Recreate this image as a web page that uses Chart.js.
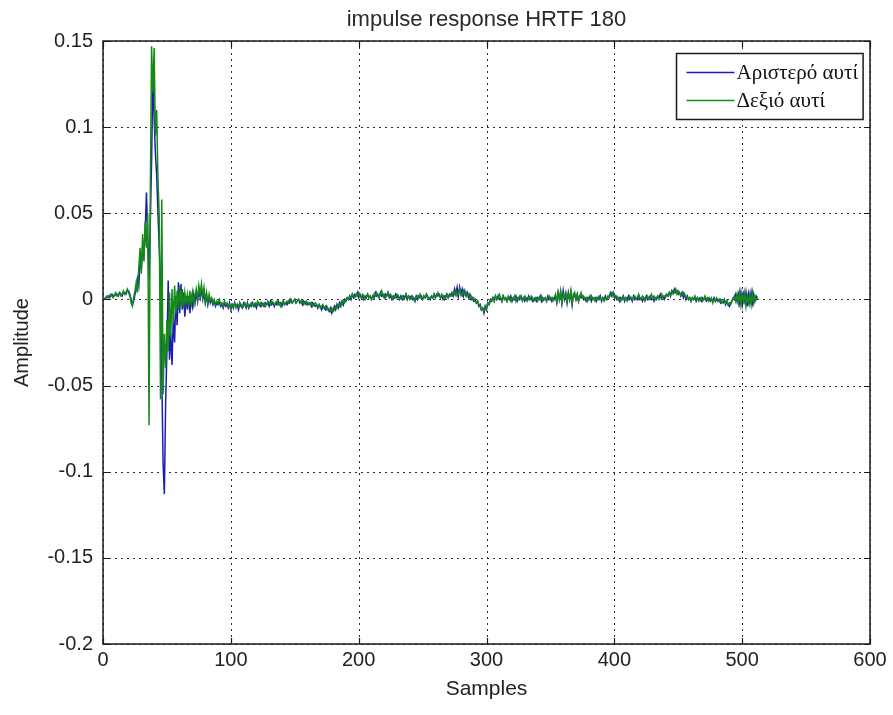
<!DOCTYPE html>
<html>
<head>
<meta charset="utf-8">
<script src="https://cdn.jsdelivr.net/npm/chart.js@4.4.0/dist/chart.umd.min.js"></script>
<style>
  html, body { margin: 0; padding: 0; background: #ffffff; }
  #wrap { width: 893px; height: 715px; }
  canvas { display: block; }
</style>
</head>
<body>
<div id="wrap"><canvas id="c" width="893" height="715"></canvas></div>
<script>
// Labels and text
const chartTitle = 'impulse response HRTF 180';
const xAxisTitle = 'Samples';
const yAxisTitle = 'Amplitude';
const seriesNames = ['Αριστερό αυτί', 'Δεξιό αυτί'];
const seriesColors = ['#1c1cb4', '#168a16'];

// Axis ticks
const xTickLabels = ['0', '100', '200', '300', '400', '500', '600'];
const yTickLabels = ['-0.2', '-0.15', '-0.1', '-0.05', '0', '0.05', '0.1', '0.15'];

// Left ear impulse response, samples 1..512 (16 per row)
const leftEar = [
  0.000, 0.001, 0.001, 0.002, 0.001, 0.002, 0.003, 0.002, 0.002, 0.003, 0.003, 0.002, 0.004, 0.003, 0.002, 0.004,
  0.004, 0.003, 0.005, 0.005, 0.003, 0.000, -0.003, -0.001, 0.003, 0.006, 0.012, 0.008, 0.022, 0.018, 0.030, 0.026,
  0.040, 0.062, 0.035, 0.012, 0.045, 0.080, 0.130, 0.105, 0.085, 0.072, 0.050, 0.030, 0.010, -0.045, -0.095, -0.113,
  -0.060, -0.030, 0.011, -0.035, -0.020, -0.038, -0.010, -0.025, 0.002, -0.015, 0.010, -0.008, 0.009, -0.006, 0.004, -0.010,
  0.002, -0.006, 0.002, -0.008, 0.001, -0.004, 0.003, -0.002, 0.004, -0.001, 0.005, 0.001, 0.006, 0.000, 0.004, -0.002,
  0.002, -0.003, 0.001, -0.002, 0.000, -0.003, -0.001, -0.004, -0.002, -0.003, -0.001, -0.004, -0.003, -0.005, -0.002, -0.004,
  -0.003, -0.005, -0.002, -0.006, -0.003, -0.005, -0.002, -0.004, -0.003, -0.006, -0.002, -0.004, -0.005, -0.002, -0.003, -0.005,
  -0.002, -0.005, -0.003, -0.004, -0.002, -0.004, -0.003, -0.005, -0.002, -0.003, -0.004, -0.002, -0.003, -0.004, -0.002, -0.003,
  -0.002, -0.004, -0.001, -0.003, -0.002, -0.004, -0.002, -0.003, -0.001, -0.003, -0.002, -0.004, -0.001, -0.003, -0.002, -0.003,
  -0.001, -0.002, 0.000, -0.002, -0.001, 0.000, -0.002, -0.001, 0.000, -0.002, -0.001, -0.003, -0.001, -0.002, -0.003, -0.002,
  -0.003, -0.002, -0.004, -0.002, -0.003, -0.004, -0.003, -0.005, -0.003, -0.004, -0.006, -0.004, -0.005, -0.006, -0.004, -0.006,
  -0.007, -0.005, -0.008, -0.006, -0.004, -0.006, -0.003, -0.005, -0.002, -0.004, -0.001, -0.003, 0.000, -0.001, 0.001, 0.000,
  0.002, 0.000, 0.003, 0.001, 0.003, 0.002, 0.004, 0.001, 0.003, 0.001, 0.002, 0.000, 0.002, 0.001, 0.003, 0.001,
  0.002, 0.000, 0.002, 0.001, 0.004, 0.002, 0.003, 0.001, 0.004, 0.002, 0.003, 0.001, 0.003, 0.002, 0.004, 0.001,
  0.002, 0.000, 0.002, 0.001, 0.003, 0.001, 0.002, 0.000, 0.002, 0.000, 0.002, 0.001, 0.003, 0.000, 0.002, 0.001,
  0.002, 0.000, 0.001, -0.001, 0.002, 0.000, 0.002, 0.001, 0.002, 0.000, 0.002, 0.001, 0.003, 0.001, 0.001, 0.000,
  0.002, 0.001, 0.003, 0.001, 0.003, 0.002, 0.003, 0.001, 0.002, 0.000, 0.002, 0.001, 0.003, 0.001, 0.003, 0.002,
  0.004, 0.002, 0.006, 0.003, 0.007, 0.002, 0.007, 0.003, 0.006, 0.002, 0.005, 0.002, 0.004, 0.001, 0.003, 0.000,
  0.001, -0.001, 0.000, -0.002, -0.001, -0.004, -0.003, -0.006, -0.005, -0.008, -0.004, -0.006, -0.002, -0.003, 0.000, -0.001,
  0.001, -0.001, 0.002, 0.000, 0.002, 0.000, 0.001, -0.001, 0.002, 0.000, 0.001, -0.001, 0.001, 0.000, 0.002, -0.001,
  0.001, 0.000, 0.002, -0.001, 0.001, 0.000, 0.002, 0.000, 0.001, -0.001, 0.001, 0.000, 0.002, 0.000, 0.001, -0.001,
  0.000, 0.001, -0.001, 0.001, 0.000, 0.002, -0.001, 0.001, 0.000, 0.001, -0.001, 0.002, 0.000, 0.001, -0.001, 0.001,
  0.000, 0.002, -0.002, 0.004, 0.000, 0.004, -0.002, 0.005, 0.000, 0.003, -0.002, 0.004, 0.000, 0.004, -0.003, 0.003,
  0.002, 0.000, 0.003, -0.001, 0.002, 0.001, 0.002, 0.000, 0.001, -0.001, 0.001, 0.000, 0.002, -0.001, 0.001, 0.000,
  0.001, -0.001, 0.001, 0.000, 0.002, -0.001, 0.001, 0.000, 0.002, 0.000, 0.001, 0.002, 0.004, 0.002, 0.004, 0.001,
  0.002, 0.000, 0.001, -0.001, 0.001, 0.000, 0.002, -0.001, 0.001, 0.000, 0.002, 0.000, 0.001, -0.001, 0.002, 0.000,
  0.001, 0.000, 0.002, 0.000, 0.001, -0.001, 0.001, 0.000, 0.002, 0.000, 0.001, 0.002, 0.000, 0.001, -0.001, 0.001,
  0.000, 0.002, 0.001, 0.003, 0.001, 0.002, 0.000, 0.002, 0.003, 0.002, 0.004, 0.002, 0.005, 0.004, 0.006, 0.004,
  0.005, 0.003, 0.004, 0.002, 0.004, 0.001, 0.003, 0.000, 0.002, 0.000, 0.001, -0.001, 0.001, 0.000, 0.001, -0.001,
  0.001, 0.000, 0.001, -0.001, 0.001, 0.000, 0.001, -0.001, 0.000, 0.001, -0.001, 0.000, -0.001, 0.001, -0.001, 0.000,
  -0.001, 0.000, -0.002, -0.001, -0.002, 0.000, -0.003, -0.001, -0.003, -0.004, -0.002, -0.001, 0.001, 0.000, 0.003, -0.001,
  0.003, -0.002, 0.004, -0.003, 0.003, -0.001, 0.004, -0.004, 0.003, -0.002, 0.004, -0.002, 0.003, -0.001, 0.002, 0.001
];

// Right ear impulse response, samples 1..512 (16 per row)
const rightEar = [
  0.000, 0.001, 0.002, 0.001, 0.002, 0.003, 0.002, 0.001, 0.003, 0.004, 0.002, 0.003, 0.004, 0.002, 0.003, 0.005,
  0.003, 0.004, 0.006, 0.004, 0.002, -0.002, -0.004, 0.001, 0.005, 0.010, 0.004, 0.018, 0.030, 0.015, 0.038, 0.022,
  0.045, 0.030, 0.050, -0.073, 0.060, 0.147, 0.120, 0.146, 0.095, 0.110, 0.070, 0.048, -0.058, 0.058, -0.055, -0.020,
  -0.040, -0.012, -0.030, 0.004, -0.022, 0.006, -0.014, 0.008, -0.008, 0.005, -0.006, 0.008, -0.004, 0.006, -0.005, 0.004,
  -0.002, 0.003, -0.004, 0.005, -0.002, 0.004, -0.003, 0.002, 0.006, 0.000, 0.008, 0.003, 0.009, 0.002, 0.007, -0.001,
  0.004, -0.002, 0.003, -0.001, 0.001, -0.002, 0.000, -0.003, -0.001, -0.002, 0.000, -0.003, -0.002, -0.004, -0.001, -0.003,
  -0.002, -0.004, -0.003, -0.005, -0.003, -0.004, -0.002, -0.005, -0.003, -0.004, -0.002, -0.003, -0.005, -0.004, -0.002, -0.004,
  -0.003, -0.005, -0.004, -0.002, -0.003, -0.004, -0.002, -0.003, -0.001, -0.003, -0.002, -0.004, -0.003, -0.002, -0.004, -0.003,
  -0.001, -0.002, -0.003, -0.001, -0.002, -0.003, -0.002, -0.001, -0.003, -0.002, -0.004, -0.002, -0.001, -0.003, -0.002, -0.001,
  -0.002, 0.000, -0.001, -0.002, -0.001, 0.000, -0.002, -0.001, 0.000, -0.001, -0.002, -0.001, -0.003, -0.002, -0.001, -0.003,
  -0.002, -0.003, -0.002, -0.004, -0.003, -0.002, -0.003, -0.004, -0.003, -0.005, -0.004, -0.003, -0.005, -0.004, -0.006, -0.005,
  -0.006, -0.007, -0.005, -0.007, -0.006, -0.004, -0.005, -0.003, -0.004, -0.002, -0.003, -0.001, -0.002, 0.000, 0.001, 0.000,
  0.002, 0.001, 0.003, 0.002, 0.001, 0.003, 0.002, 0.004, 0.002, 0.001, 0.003, 0.002, 0.000, 0.002, 0.003, 0.001,
  0.002, 0.000, 0.001, 0.003, 0.002, 0.004, 0.002, 0.001, 0.003, 0.005, 0.002, 0.003, 0.001, 0.002, 0.004, 0.002,
  0.003, 0.001, 0.000, 0.002, 0.001, 0.003, 0.002, 0.000, 0.001, 0.002, 0.000, 0.001, 0.003, 0.001, 0.002, 0.000,
  0.001, 0.002, 0.000, -0.001, 0.001, 0.002, 0.001, 0.003, 0.001, 0.000, 0.002, 0.001, 0.003, 0.002, 0.000, 0.001,
  0.002, 0.001, 0.003, 0.001, 0.002, 0.004, 0.002, 0.001, 0.003, 0.002, 0.000, 0.002, 0.003, 0.001, 0.002, 0.003,
  0.002, 0.004, 0.003, 0.005, 0.002, 0.004, 0.006, 0.003, 0.002, 0.005, 0.003, 0.004, 0.002, 0.003, 0.001, 0.002,
  0.000, 0.001, -0.001, -0.002, -0.001, -0.003, -0.004, -0.006, -0.005, -0.007, -0.004, -0.005, -0.002, -0.003, -0.001, 0.000,
  0.001, -0.001, 0.002, 0.000, 0.001, 0.003, 0.001, -0.001, 0.002, 0.000, 0.001, -0.001, 0.002, 0.001, -0.001, 0.001,
  0.000, 0.002, -0.001, 0.001, 0.000, 0.002, 0.001, -0.001, 0.001, 0.002, 0.000, -0.001, 0.001, 0.000, 0.002, 0.001,
  -0.001, 0.000, 0.001, -0.001, 0.001, 0.000, 0.002, -0.001, 0.000, 0.001, -0.001, 0.001, 0.002, 0.000, 0.001, -0.001,
  0.001, 0.003, -0.001, 0.004, 0.000, 0.005, -0.002, 0.003, 0.001, 0.004, -0.001, 0.003, 0.000, 0.005, -0.002, 0.002,
  0.004, 0.000, 0.003, -0.001, 0.002, 0.004, 0.001, 0.002, 0.000, 0.001, -0.001, 0.001, 0.000, 0.002, 0.000, 0.001,
  -0.001, 0.001, 0.000, 0.002, 0.001, 0.000, 0.001, -0.001, 0.001, 0.000, 0.002, 0.001, 0.003, 0.004, 0.002, 0.003,
  0.001, 0.002, 0.000, 0.001, -0.001, 0.001, 0.002, 0.000, 0.001, -0.001, 0.000, 0.002, 0.001, 0.000, 0.001, 0.002,
  0.000, 0.001, 0.003, 0.001, 0.000, 0.002, 0.001, -0.001, 0.001, 0.002, 0.000, 0.001, 0.003, 0.001, 0.002, 0.000,
  0.001, 0.002, 0.000, 0.001, 0.003, 0.001, 0.002, 0.001, 0.003, 0.002, 0.004, 0.003, 0.005, 0.003, 0.004, 0.006,
  0.003, 0.005, 0.004, 0.002, 0.003, 0.004, 0.002, 0.001, 0.002, 0.000, 0.001, -0.001, 0.001, 0.000, 0.002, 0.000,
  0.001, -0.001, 0.000, 0.001, -0.001, 0.000, 0.002, 0.000, 0.001, -0.001, 0.000, 0.001, -0.002, 0.000, -0.001, 0.001,
  0.000, -0.001, 0.000, -0.002, -0.001, 0.000, -0.002, -0.001, -0.003, -0.002, -0.003, -0.001, 0.000, 0.002, -0.001, 0.003,
  -0.002, 0.004, -0.003, 0.003, -0.001, 0.004, -0.004, 0.002, -0.002, 0.003, -0.003, 0.004, -0.002, 0.002, 0.000, 0.001
];

const FONT = '"Liberation Sans", Arial, sans-serif';
const SERIF = '"Liberation Serif", "Times New Roman", serif';

// x = sample number (1-based), y = amplitude
const toPoints = arr => arr.map((v, i) => ({ x: i + 1, y: v }));

// Dotted grid, inward tick marks, axes box, legend and title
const matlabFrame = {
  id: 'matlabFrame',
  beforeDatasetsDraw(chart) {
    const { ctx, chartArea: a, scales: { x, y } } = chart;
    ctx.save();
    ctx.strokeStyle = '#2a2a2a';
    ctx.lineWidth = 1;
    ctx.setLineDash([2, 4]);
    ctx.beginPath();
    x.ticks.forEach(t => {
      const px = Math.round(x.getPixelForValue(t.value)) + 0.5;
      ctx.moveTo(px, a.top); ctx.lineTo(px, a.bottom);
    });
    y.ticks.forEach(t => {
      const py = Math.round(y.getPixelForValue(t.value)) + 0.5;
      ctx.moveTo(a.left, py); ctx.lineTo(a.right, py);
    });
    ctx.stroke();
    ctx.restore();
  },
  afterDatasetsDraw(chart) {
    const { ctx, chartArea: a, scales: { x, y } } = chart;
    ctx.save();
    ctx.setLineDash([]);
    ctx.strokeStyle = '#1a1a1a';
    ctx.lineWidth = 1.5;
    ctx.strokeRect(a.left, a.top, a.right - a.left, a.bottom - a.top);
    const tl = 6;
    ctx.lineWidth = 1.2;
    ctx.beginPath();
    x.ticks.forEach(t => {
      const px = Math.round(x.getPixelForValue(t.value)) + 0.5;
      ctx.moveTo(px, a.bottom); ctx.lineTo(px, a.bottom - tl);
      ctx.moveTo(px, a.top); ctx.lineTo(px, a.top + tl);
    });
    y.ticks.forEach(t => {
      const py = Math.round(y.getPixelForValue(t.value)) + 0.5;
      ctx.moveTo(a.left, py); ctx.lineTo(a.left + tl, py);
      ctx.moveTo(a.right, py); ctx.lineTo(a.right - tl, py);
    });
    ctx.stroke();

    // legend box in the upper right corner
    const ds = chart.data.datasets;
    ctx.font = '21px ' + SERIF;
    const textW = Math.max(...ds.map(d => ctx.measureText(d.label).width));
    const lineLen = 48, padL = 10, gap = 2, padR = 5, rowH = 28;
    const boxW = padL + lineLen + gap + textW + padR;
    const boxH = 66;
    const bx = Math.round(a.right - 7 - boxW) + 0.5;
    const by = Math.round(a.top + 12) + 0.5;
    ctx.fillStyle = '#ffffff';
    ctx.fillRect(bx, by, boxW, boxH);
    ctx.strokeStyle = '#1a1a1a';
    ctx.lineWidth = 1.5;
    ctx.strokeRect(bx, by, boxW, boxH);
    ds.forEach((d, i) => {
      const ry = by + 19 + i * rowH;
      ctx.strokeStyle = d.borderColor;
      ctx.lineWidth = 1.5;
      ctx.beginPath();
      ctx.moveTo(bx + padL, ry); ctx.lineTo(bx + padL + lineLen, ry);
      ctx.stroke();
      ctx.fillStyle = '#111111';
      ctx.textAlign = 'left';
      ctx.textBaseline = 'middle';
      ctx.fillText(d.label, bx + padL + lineLen + gap, ry + 1);
    });
    ctx.restore();
  },
  afterDraw(chart) {
    const { ctx, chartArea: a } = chart;
    ctx.save();
    ctx.font = '22px ' + FONT;
    ctx.fillStyle = '#2a2a2a';
    ctx.textAlign = 'center';
    ctx.textBaseline = 'middle';
    ctx.fillText(chartTitle, (a.left + a.right) / 2, 20);
    ctx.restore();
  }
};

new Chart(document.getElementById('c'), {
  type: 'line',
  data: {
    datasets: [
      {
        label: seriesNames[0],
        data: toPoints(leftEar),
        borderColor: seriesColors[0],
        borderWidth: 1.5,
        pointRadius: 0,
        tension: 0,
        order: 1
      },
      {
        label: seriesNames[1],
        data: toPoints(rightEar),
        borderColor: seriesColors[1],
        borderWidth: 1.5,
        pointRadius: 0,
        tension: 0,
        order: 0
      }
    ]
  },
  options: {
    responsive: false,
    devicePixelRatio: 1,
    animation: false,
    layout: { padding: { left: 0, right: 23, top: 41, bottom: 0 } },
    plugins: {
      legend: { display: false },
      tooltip: { enabled: false },
      title: { display: false }
    },
    scales: {
      x: {
        type: 'linear',
        min: 0,
        max: 600,
        grid: { display: false, drawTicks: false },
        border: { display: false },
        ticks: {
          stepSize: 100,
          padding: 4,
          color: '#222222',
          font: { family: FONT, size: 20 },
          maxRotation: 0,
          callback: (v, i) => xTickLabels[i]
        },
        title: {
          display: true,
          text: xAxisTitle,
          color: '#222222',
          font: { family: FONT, size: 21 },
          padding: { top: 0, bottom: 13 }
        },
        afterFit(scale) { scale.height = 71; }
      },
      y: {
        type: 'linear',
        min: -0.2,
        max: 0.15,
        grid: { display: false, drawTicks: false },
        border: { display: false },
        ticks: {
          stepSize: 0.05,
          padding: 10,
          color: '#222222',
          font: { family: FONT, size: 20 },
          callback: (v, i) => yTickLabels[i]
        },
        title: {
          display: true,
          text: yAxisTitle,
          color: '#222222',
          font: { family: FONT, size: 20 },
          padding: { top: 10, bottom: 0 }
        },
        afterFit(scale) { scale.width = 103; }
      }
    }
  },
  plugins: [matlabFrame]
});
</script>
</body>
</html>
